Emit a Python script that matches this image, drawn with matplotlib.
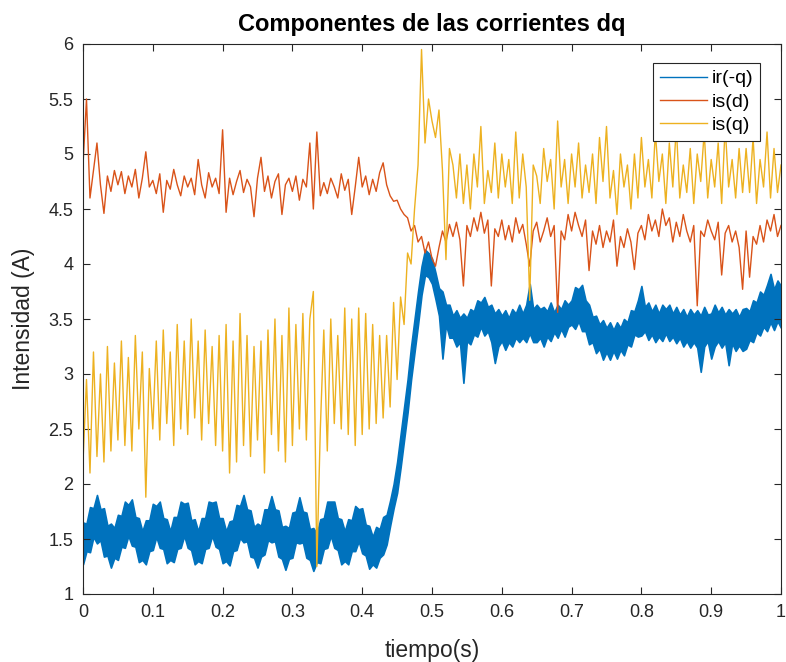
import numpy as np
import matplotlib
matplotlib.use("Agg")
import matplotlib.pyplot as plt
from matplotlib.lines import Line2D

plt.rcParams['font.family'] = ['Liberation Sans', 'DejaVu Sans']

# time axis: samples every 0.005 s from 0 to 1 s
t = np.round(np.arange(201) * 0.005, 3)

x_ticks = [0, 0.1, 0.2, 0.3, 0.4, 0.5, 0.6, 0.7, 0.8, 0.9, 1]
x_ticklabels = ["0", "0.1", "0.2", "0.3", "0.4", "0.5", "0.6", "0.7", "0.8", "0.9", "1"]
y_ticks = [1, 1.5, 2, 2.5, 3, 3.5, 4, 4.5, 5, 5.5, 6]
y_ticklabels = ["1", "1.5", "2", "2.5", "3", "3.5", "4", "4.5", "5", "5.5", "6"]

labels = ["ir(-q)", "is(d)", "is(q)"]

# ir(-q): upper and lower edge of the noisy band
ir_hi = [
    1.65, 1.64, 1.79, 1.78, 1.90, 1.77, 1.78, 1.62, 1.64, 1.60,
    1.72, 1.71, 1.84, 1.81, 1.86, 1.70, 1.69, 1.57, 1.67, 1.67,
    1.82, 1.80, 1.84, 1.69, 1.68, 1.57, 1.70, 1.70, 1.84, 1.82,
    1.83, 1.67, 1.68, 1.57, 1.69, 1.69, 1.84, 1.83, 1.84, 1.69,
    1.69, 1.57, 1.66, 1.67, 1.81, 1.80, 1.90, 1.77, 1.76, 1.61,
    1.64, 1.62, 1.77, 1.77, 1.89, 1.77, 1.76, 1.61, 1.62, 1.60,
    1.74, 1.75, 1.88, 1.75, 1.74, 1.59, 1.60, 1.55, 1.68, 1.69,
    1.84, 1.84, 1.84, 1.69, 1.68, 1.57, 1.68, 1.67, 1.80, 1.77,
    1.78, 1.63, 1.62, 1.52, 1.61, 1.59, 1.70, 1.72, 1.85, 2.00,
    2.20, 2.45, 2.70, 2.95, 3.25, 3.50, 3.75, 3.98, 4.13, 4.10,
    4.05, 3.92, 3.78, 3.75, 3.63, 3.63, 3.53, 3.58, 3.51, 3.55,
    3.51, 3.59, 3.57, 3.67, 3.65, 3.70, 3.61, 3.63, 3.55, 3.59,
    3.53, 3.58, 3.51, 3.59, 3.55, 3.63, 3.55, 3.63, 3.82, 3.59,
    3.63, 3.59, 3.61, 3.57, 3.65, 3.56, 3.63, 3.59, 3.67, 3.63,
    3.67, 3.79, 3.77, 3.81, 3.67, 3.63, 3.52, 3.53, 3.45, 3.49,
    3.42, 3.47, 3.40, 3.47, 3.42, 3.50, 3.47, 3.58, 3.57, 3.67,
    3.80, 3.61, 3.65, 3.57, 3.63, 3.55, 3.63, 3.59, 3.63, 3.55,
    3.61, 3.54, 3.59, 3.52, 3.59, 3.54, 3.58, 3.53, 3.61, 3.54,
    3.55, 3.63, 3.56, 3.61, 3.54, 3.59, 3.55, 3.59, 3.52, 3.59,
    3.60, 3.57, 3.67, 3.65, 3.75, 3.72, 3.81, 3.91, 3.77, 3.85,
    3.80,
]
ir_lo = [
    1.27, 1.39, 1.38, 1.52, 1.46, 1.49, 1.34, 1.35, 1.24, 1.33,
    1.31, 1.43, 1.42, 1.53, 1.44, 1.43, 1.29, 1.31, 1.27, 1.39,
    1.40, 1.52, 1.42, 1.41, 1.28, 1.31, 1.29, 1.41, 1.42, 1.53,
    1.42, 1.40, 1.27, 1.30, 1.28, 1.41, 1.42, 1.53, 1.43, 1.41,
    1.28, 1.30, 1.26, 1.39, 1.40, 1.51, 1.47, 1.48, 1.34, 1.33,
    1.24, 1.34, 1.36, 1.49, 1.47, 1.48, 1.34, 1.32, 1.22, 1.32,
    1.33, 1.47, 1.46, 1.47, 1.33, 1.31, 1.21, 1.29, 1.28, 1.41,
    1.42, 1.53, 1.42, 1.40, 1.27, 1.30, 1.27, 1.39, 1.39, 1.48,
    1.37, 1.35, 1.23, 1.27, 1.24, 1.33, 1.36, 1.45, 1.62, 1.78,
    1.92, 2.15, 2.40, 2.65, 2.95, 3.20, 3.45, 3.72, 3.90, 3.88,
    3.82, 3.68, 3.53, 3.14, 3.45, 3.33, 3.33, 3.25, 3.29, 2.92,
    3.30, 3.27, 3.36, 3.34, 3.43, 3.35, 3.39, 3.29, 3.10, 3.25,
    3.30, 3.22, 3.29, 3.25, 3.33, 3.29, 3.33, 3.29, 3.37, 3.29,
    3.29, 3.33, 3.25, 3.34, 3.30, 3.38, 3.33, 3.41, 3.34, 3.43,
    3.45, 3.41, 3.48, 3.39, 3.39, 3.27, 3.29, 3.19, 3.23, 3.13,
    3.20, 3.13, 3.21, 3.14, 3.22, 3.17, 3.27, 3.25, 3.36, 3.34,
    3.35, 3.39, 3.31, 3.36, 3.29, 3.34, 3.30, 3.37, 3.30, 3.34,
    3.28, 3.33, 3.25, 3.30, 3.24, 3.29, 3.24, 3.02, 3.25, 3.30,
    3.14, 3.25, 3.30, 3.24, 3.29, 3.08, 3.28, 3.21, 3.26, 3.21,
    3.23, 3.31, 3.29, 3.38, 3.35, 3.43, 3.39, 3.47, 3.40, 3.48,
    3.42,
]

# is(d)
is_d = [
    4.90, 5.50, 4.60, 4.85, 5.10, 4.72, 4.46, 4.80, 4.66, 4.85,
    4.72, 4.84, 4.64, 4.80, 4.70, 4.86, 4.60, 4.78, 5.02, 4.70,
    4.76, 4.64, 4.82, 4.47, 4.76, 4.68, 4.86, 4.72, 4.62, 4.80,
    4.70, 4.78, 4.63, 4.95, 4.72, 4.60, 4.83, 4.70, 4.78, 4.64,
    5.22, 4.47, 4.78, 4.63, 4.75, 4.85, 4.65, 4.77, 4.70, 4.43,
    4.78, 4.97, 4.66, 4.80, 4.60, 4.75, 4.82, 4.45, 4.72, 4.78,
    4.66, 4.80, 4.58, 4.77, 4.70, 5.10, 4.50, 5.20, 4.62, 4.74,
    4.64, 4.78, 4.70, 4.60, 4.82, 4.67, 4.77, 4.45, 4.70, 4.97,
    4.70, 4.80, 4.63, 4.77, 4.66, 4.83, 4.92, 4.72, 4.62, 4.57,
    4.58, 4.50, 4.45, 4.42, 4.30, 4.35, 4.20, 4.25, 4.10, 4.20,
    4.05, 3.98, 4.15, 4.30, 4.20, 4.36, 4.25, 4.38, 4.22, 3.80,
    4.35, 4.25, 4.42, 4.30, 4.47, 4.28, 4.40, 3.80, 4.32, 4.25,
    4.40, 4.22, 4.35, 4.20, 4.42, 4.28, 4.36, 4.18, 3.98, 4.30,
    4.38, 4.20, 4.30, 4.42, 4.25, 4.35, 3.56, 4.30, 4.22, 4.45,
    4.30, 4.47, 4.35, 4.25, 4.40, 3.94, 4.30, 4.18, 4.35, 4.15,
    4.30, 4.20, 4.40, 3.98, 4.25, 4.15, 4.32, 4.20, 3.95, 4.28,
    4.35, 4.22, 4.45, 4.30, 4.40, 4.25, 4.50, 4.35, 4.42, 4.20,
    4.38, 4.25, 4.45, 4.30, 4.20, 4.35, 3.62, 4.30, 4.25, 4.40,
    4.30, 4.22, 4.38, 3.90, 4.28, 4.35, 4.20, 4.30, 4.15, 3.77,
    4.30, 3.88, 4.25, 4.18, 4.35, 4.20, 4.40, 4.30, 4.45, 4.25,
    4.35,
]

# is(q)
is_q = [
    2.20, 2.95, 2.10, 3.20, 2.25, 3.00, 2.20, 3.25, 2.30, 3.10,
    2.40, 3.30, 2.35, 3.15, 2.30, 3.35, 2.50, 3.20, 1.88, 3.05,
    2.50, 3.30, 2.40, 3.40, 2.55, 3.20, 2.35, 3.45, 2.50, 3.30,
    2.45, 3.50, 2.60, 3.30, 2.40, 3.40, 2.55, 3.25, 2.35, 3.35,
    2.30, 3.45, 2.10, 3.30, 2.20, 3.55, 2.35, 3.35, 2.25, 3.25,
    2.40, 3.30, 2.10, 3.40, 2.45, 3.50, 2.30, 3.35, 2.20, 3.60,
    2.35, 3.45, 2.50, 3.55, 2.40, 3.50, 3.75, 1.25, 2.50, 3.40,
    2.30, 3.50, 2.55, 3.35, 2.50, 3.60, 2.45, 3.50, 2.35, 3.60,
    2.45, 3.55, 2.50, 3.45, 2.55, 3.35, 2.60, 3.35, 2.70, 3.65,
    2.95, 3.70, 3.45, 4.10, 4.00, 4.50, 4.90, 5.95, 5.10, 5.50,
    5.30, 5.15, 5.40, 4.85, 4.04, 5.05, 4.90, 4.60, 5.00, 4.55,
    4.90, 4.50, 5.00, 4.70, 5.25, 4.55, 4.85, 4.65, 5.10, 4.60,
    5.00, 4.70, 4.95, 4.55, 5.20, 4.60, 5.00, 4.70, 3.67, 4.90,
    4.80, 4.55, 5.05, 4.75, 4.95, 4.50, 5.30, 4.70, 4.95, 4.55,
    5.00, 4.70, 5.10, 4.60, 4.90, 4.65, 5.00, 4.55, 5.15, 4.75,
    5.25, 4.60, 4.85, 4.45, 5.00, 4.70, 4.90, 4.50, 5.00, 4.60,
    5.15, 4.70, 4.95, 4.60, 5.20, 4.75, 5.00, 4.55, 5.10, 4.70,
    5.25, 4.60, 4.90, 4.65, 5.05, 4.55, 5.00, 4.75, 5.20, 4.60,
    4.95, 4.70, 5.10, 4.55, 5.25, 4.70, 4.95, 4.60, 5.05, 4.65,
    5.05, 4.65, 5.15, 4.55, 4.95, 4.70, 5.20, 4.60, 5.05, 4.65,
    4.90,
]

c_blue = "#0072BD"
c_orange = "#D95319"
c_yellow = "#EDB120"
axis_col = "#262626"

fig = plt.figure(figsize=(7.86, 6.62), dpi=100)
ax = fig.add_axes([83 / 786, 68 / 662, 698 / 786, 550 / 662])

ax.fill_between(t, ir_lo, ir_hi, color=c_blue, linewidth=1.2, edgecolor=c_blue)
ax.plot(t, is_d, color=c_orange, linewidth=1.0)
ax.plot(t, is_q, color=c_yellow, linewidth=1.0)

ax.set_xlim(0, 1)
ax.set_ylim(1, 6)
ax.set_xticks(x_ticks)
ax.set_xticklabels(x_ticklabels)
ax.set_yticks(y_ticks)
ax.set_yticklabels(y_ticklabels)
ax.tick_params(direction="in", top=True, right=True, length=5, width=0.8,
               labelsize=13, colors=axis_col, pad=7)
for s in ax.spines.values():
    s.set_color(axis_col)
    s.set_linewidth(0.8)

ax.set_xlabel("tiempo(s)", fontsize=16.5, color=axis_col, labelpad=13)
ax.set_ylabel("Intensidad (A)", fontsize=16.5, color=axis_col, labelpad=10)
ax.set_title("Componentes de las corrientes dq", fontsize=17, fontweight="bold",
             color="black", pad=9)

handles = [Line2D([], [], color=c, linewidth=1.0) for c in (c_blue, c_orange, c_yellow)]
leg = ax.legend(handles, labels, loc="upper right",
                bbox_to_anchor=(0.970, 0.9655), fontsize=14, frameon=True,
                fancybox=False, framealpha=1, edgecolor=axis_col,
                handlelength=2.4, handletextpad=0.25, labelspacing=0.3,
                borderpad=0.35, borderaxespad=0.0)
leg.get_frame().set_linewidth(0.8)

fig.savefig("out.png", dpi=100)
